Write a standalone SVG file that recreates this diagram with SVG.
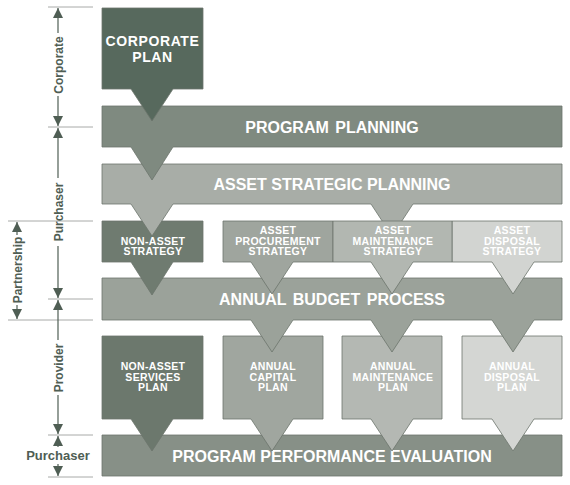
<svg xmlns="http://www.w3.org/2000/svg" width="570" height="485" viewBox="0 0 570 485">
<defs>
<style>
.bar{stroke:#6c756c;stroke-width:0.8}
.t{font-family:"Liberation Sans",Arial,sans-serif;font-weight:bold;fill:#ffffff;text-anchor:middle}
.big{font-size:16px;word-spacing:2px}
.sm{font-size:10.5px;letter-spacing:0.3px}
.lab{font-family:"Liberation Sans",Arial,sans-serif;font-weight:bold;font-size:12px;fill:#4f5e54;text-anchor:middle}
.tick{stroke:#a8aaa8;stroke-width:1}
.ax{stroke:#4f5e54;stroke-width:1.2;fill:none}
</style>
<marker id="ah" viewBox="0 0 10 10" refX="10" refY="5" markerWidth="11" markerHeight="10" markerUnits="userSpaceOnUse" orient="auto-start-reverse">
<path d="M0,0 L10,5 L0,10 z" fill="#4f5e54"/>
</marker>
</defs>
<rect width="570" height="485" fill="#ffffff"/>

<g id="ppe">
<path class="bar" fill="#879087" d="M102 435 H562 V476 H102 Z"/>
<text class="t big" x="332" y="461.5" style="word-spacing:0">PROGRAM PERFORMANCE EVALUATION</text>
</g>

<g id="nonasset-services-plan">
<path class="bar" fill="#6c786d" d="M102 336 H203 V419 H173 L152 451 L131 419 H102 Z"/>
<text class="t sm" x="153" y="370">NON-ASSET</text>
<text class="t sm" x="153" y="380.5">SERVICES</text>
<text class="t sm" x="153" y="391">PLAN</text>
</g>
<g id="capital-plan">
<path class="bar" fill="#a0a69f" d="M223 336 H323 V419 H293 L272 451 L251 419 H223 Z"/>
<text class="t sm" x="273" y="370">ANNUAL</text>
<text class="t sm" x="273" y="380.5">CAPITAL</text>
<text class="t sm" x="273" y="391">PLAN</text>
</g>
<g id="maintenance-plan">
<path class="bar" fill="#b4b8b3" d="M342 336 H442 V419 H413 L392 451 L371 419 H342 Z"/>
<text class="t sm" x="393" y="370">ANNUAL</text>
<text class="t sm" x="393" y="380.5">MAINTENANCE</text>
<text class="t sm" x="393" y="391">PLAN</text>
</g>
<g id="disposal-plan">
<path class="bar" fill="#d4d6d3" d="M462 336 H562 V419 H534 L513 451 L492 419 H462 Z"/>
<text class="t sm" x="512" y="370">ANNUAL</text>
<text class="t sm" x="512" y="380.5">DISPOSAL</text>
<text class="t sm" x="512" y="391">PLAN</text>
</g>

<g id="annual-budget">
<path class="bar" fill="#9ba29a" d="M102 278 H562 V320 H534 L513 352 L492 320 H413 L392 352 L371 320 H293 L272 352 L251 320 H102 Z"/>
<text class="t big" x="332" y="304.5">ANNUAL BUDGET PROCESS</text>
</g>

<g id="nonasset-strategy">
<path class="bar" fill="#6f7b70" d="M102 221 H203 V262 H173 L152 295 L131 262 H102 Z"/>
<text class="t sm" x="153" y="244.5">NON-ASSET</text>
<text class="t sm" x="153" y="255">STRATEGY</text>
</g>
<g id="procurement-strategy">
<path class="bar" fill="#9fa59e" d="M223 221 H333 V262 H293 L272 294 L251 262 H223 Z"/>
<text class="t sm" x="278" y="234">ASSET</text>
<text class="t sm" x="278" y="244.5">PROCUREMENT</text>
<text class="t sm" x="278" y="255">STRATEGY</text>
</g>
<g id="disposal-strategy">
<path class="bar" fill="#d2d4d1" d="M452 221 H562 V262 H534 L513 294 L492 262 H452 Z"/>
<text class="t sm" x="512" y="234">ASSET</text>
<text class="t sm" x="512" y="244.5">DISPOSAL</text>
<text class="t sm" x="512" y="255">STRATEGY</text>
</g>

<g id="asset-strategic-planning">
<path class="bar" fill="#a8ada7" d="M102 164 H562 V204 H413 L392 236 L371 204 H173 L152 236 L131 204 H102 Z"/>
<text class="t big" x="332" y="190" style="word-spacing:0">ASSET STRATEGIC PLANNING</text>
</g>

<g id="maintenance-strategy">
<path class="bar" fill="#b2b7b1" d="M333 221 H452 V262 H413 L392 294 L371 262 H333 Z"/>
<text class="t sm" x="393" y="234">ASSET</text>
<text class="t sm" x="393" y="244.5">MAINTENANCE</text>
<text class="t sm" x="393" y="255">STRATEGY</text>
</g>

<g id="program-planning">
<path class="bar" fill="#7f8a80" d="M102 106 H562 V147 H173 L152 180 L131 147 H102 Z"/>
<text class="t big" x="332" y="132.5">PROGRAM PLANNING</text>
</g>

<g id="corporate-plan">
<path class="bar" fill="#57695d" d="M102 8 H203 V89 H173 L152 121 L131 89 H102 Z"/>
<text class="t" style="font-size:14px;letter-spacing:0.6px" x="152.5" y="46">CORPORATE</text>
<text class="t" style="font-size:14px;letter-spacing:0.6px" x="152.5" y="62">PLAN</text>
</g>

<g id="connectors">
<line class="tick" x1="48" y1="7" x2="93" y2="7"/>
<line class="tick" x1="48" y1="127" x2="93" y2="127"/>
<line class="tick" x1="8" y1="221" x2="93" y2="221"/>
<line class="tick" x1="48" y1="299" x2="93" y2="299"/>
<line class="tick" x1="8" y1="320" x2="93" y2="320"/>
<line class="tick" x1="48" y1="435" x2="93" y2="435"/>
<line class="tick" x1="48" y1="477" x2="93" y2="477"/>

<line class="ax" x1="58" y1="33" x2="58" y2="8" marker-end="url(#ah)"/>
<line class="ax" x1="58" y1="96" x2="58" y2="126" marker-end="url(#ah)"/>
<line class="ax" x1="58" y1="178" x2="58" y2="128" marker-end="url(#ah)"/>
<line class="ax" x1="58" y1="246" x2="58" y2="298" marker-end="url(#ah)"/>
<line class="ax" x1="58" y1="340" x2="58" y2="300" marker-end="url(#ah)"/>
<line class="ax" x1="58" y1="395" x2="58" y2="434" marker-end="url(#ah)"/>
<line class="ax" x1="58" y1="447" x2="58" y2="436" marker-end="url(#ah)"/>
<line class="ax" x1="58" y1="464" x2="58" y2="476" marker-end="url(#ah)"/>
<line class="ax" x1="17" y1="235" x2="17" y2="222" marker-end="url(#ah)"/>
<line class="ax" x1="17" y1="305" x2="17" y2="319" marker-end="url(#ah)"/>
</g>

<g id="labels">
<text class="lab" transform="translate(62.5,65) rotate(-90)">Corporate</text>
<text class="lab" transform="translate(62.5,212) rotate(-90)">Purchaser</text>
<text class="lab" transform="translate(21.5,270) rotate(-90)">Partnership</text>
<text class="lab" transform="translate(62.5,368) rotate(-90)">Provider</text>
<text class="lab" style="font-size:13px" x="58" y="460">Purchaser</text>
</g>
</svg>
